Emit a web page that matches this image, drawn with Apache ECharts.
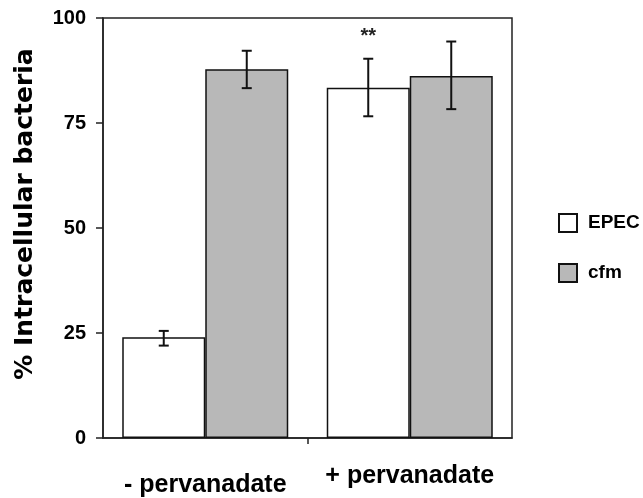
<!DOCTYPE html>
<html>
<head>
<meta charset="utf-8">
<script src="https://cdn.jsdelivr.net/npm/echarts@6/dist/echarts.min.js"></script>
<style>
  html, body { margin: 0; padding: 0; background: #fff; }
  #chart { width: 643px; height: 498px; }
</style>
</head>
<body>
<div id="chart"></div>
<script>
// data
const categories = ['- pervanadate', '+ pervanadate'];
const epec = [24.0, 83.4];
const epecLow = [22.0, 76.6];
const epecHigh = [25.5, 90.3];
const cfm = [87.8, 86.2];
const cfmLow = [83.3, 78.3];
const cfmHigh = [92.2, 94.4];
const epecSig = ['', '**'];
const yTicks = [0, 25, 50, 75, 100];

const barW = 83;
const font = 'Arial, "Liberation Sans", sans-serif';

// error bar drawer, side -1 = left bar of the pair, +1 = right bar
function errorBars(side, sig) {
  return function (params, api) {
    const x = api.value(0);
    const lo = api.coord([x, api.value(1)]);
    const hi = api.coord([x, api.value(2)]);
    const cx = lo[0] + side * barW / 2;
    const cap = 5;
    const style = { stroke: '#111', lineWidth: 2 };
    const children = [
      { type: 'line', shape: { x1: cx, y1: lo[1], x2: cx, y2: hi[1] }, style: style },
      { type: 'line', shape: { x1: cx - cap, y1: hi[1], x2: cx + cap, y2: hi[1] }, style: style },
      { type: 'line', shape: { x1: cx - cap, y1: lo[1], x2: cx + cap, y2: lo[1] }, style: style }
    ];
    if (sig && sig[params.dataIndex]) {
      children.push({
        type: 'text',
        style: {
          text: sig[params.dataIndex], x: cx, y: hi[1] - 22,
          align: 'center', verticalAlign: 'middle',
          font: 'bold 20px ' + font, fill: '#222'
        }
      });
    }
    return { type: 'group', children: children };
  };
}

const chart = echarts.init(document.getElementById('chart'), null, { renderer: 'canvas' });

chart.setOption({
  animation: false,
  backgroundColor: '#fff',
  grid: {
    left: 103, right: 131, top: 18, bottom: 60,
    show: true, borderColor: '#222', borderWidth: 1.5
  },
  legend: {
    orient: 'vertical',
    left: 553, top: 208,
    itemWidth: 18, itemHeight: 18, itemGap: 30,
    icon: 'rect',
    data: ['EPEC', 'cfm'],
    textStyle: { fontFamily: font, fontWeight: 'bold', fontSize: 19, color: '#000', padding: [0, 0, 0, 6] }
  },
  xAxis: [
    {
      type: 'category',
      data: categories,
      axisLine: { lineStyle: { color: '#222', width: 1.5 } },
      axisTick: { show: false },
      axisLabel: {
        margin: 26,
        formatter: function (v, i) { return i === 0 ? '{lo|' + v + '}' : '{hi|' + v + '}'; },
        rich: {
          lo: { fontFamily: font, fontWeight: 'bold', fontSize: 25, color: '#000', padding: [9, 0, 0, 0] },
          hi: { fontFamily: font, fontWeight: 'bold', fontSize: 25, color: '#000' }
        }
      }
    },
    {
      // only used for the single tick between the two groups
      type: 'value', position: 'bottom', min: 0, max: 2,
      axisLine: { show: false },
      axisLabel: { show: false },
      splitLine: { show: false },
      axisTick: { show: true, length: 6, customValues: [1], lineStyle: { color: '#222', width: 1.5 } }
    }
  ],
  yAxis: {
    type: 'value',
    min: yTicks[0], max: yTicks[yTicks.length - 1], interval: 25,
    name: '% Intracellular bacteria',
    nameLocation: 'middle',
    nameGap: 65,
    nameTextStyle: { fontFamily: '"DejaVu Sans", sans-serif', fontWeight: 'bold', fontSize: 25, color: '#000', padding: [0, 0, 0, 28] },
    axisLine: { show: true, lineStyle: { color: '#222', width: 1.5 } },
    axisTick: { show: true, length: 7, lineStyle: { color: '#222', width: 1.5 } },
    splitLine: { show: false },
    axisLabel: { margin: 17, fontFamily: font, fontWeight: 'bold', fontSize: 20, color: '#000' }
  },
  series: [
    {
      name: 'EPEC', type: 'bar', data: epec, barWidth: barW, barGap: '0%',
      itemStyle: { color: '#ffffff', borderColor: '#111', borderWidth: 1.5 }
    },
    {
      name: 'cfm', type: 'bar', data: cfm, barWidth: barW, barGap: '0%',
      itemStyle: { color: '#b8b8b8', borderColor: '#111', borderWidth: 1.5 }
    },
    {
      type: 'custom', name: 'EPEC err', z: 10,
      renderItem: errorBars(-1, epecSig),
      data: categories.map(function (c, i) { return [i, epecLow[i], epecHigh[i]]; })
    },
    {
      type: 'custom', name: 'cfm err', z: 10,
      renderItem: errorBars(1, null),
      data: categories.map(function (c, i) { return [i, cfmLow[i], cfmHigh[i]]; })
    }
  ]
});
</script>
</body>
</html>
